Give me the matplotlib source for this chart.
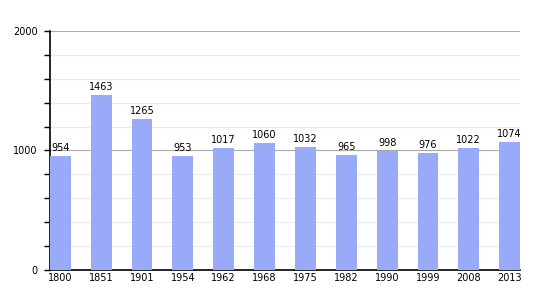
import matplotlib.pyplot as plt
import numpy as np

years = ['1800', '1851', '1901', '1954', '1962', '1968', '1975', '1982', '1990', '1999', '2008', '2013']
population = [954, 1463, 1265, 953, 1017, 1060, 1032, 965, 998, 976, 1022, 1074]

fig = plt.figure(figsize=(5.5, 3), dpi=100)
ax = fig.add_axes([0.091, 0.1, 0.855, 0.797])

x = np.arange(len(years))
bars = ax.bar(x, population, width=0.51, color='#99aaf9', zorder=3)

# value labels on top of bars
for xi, v in zip(x, population):
    ax.text(xi, v + 25, str(v), ha='center', va='bottom', fontsize=7, color='black', zorder=4)

ax.set_xlim(-0.25, len(years) - 0.74)
ax.set_ylim(0, 2000)
ax.set_xticks(x)
ax.set_xticklabels(years, fontsize=7)
ax.set_yticks([0, 1000, 2000])
ax.set_yticklabels(['0', '1000', '2000'], fontsize=7)
ax.set_yticks(np.arange(200, 2000, 200), minor=True)

ax.grid(axis='y', which='minor', color='#ebebeb', linewidth=0.8, zorder=0)
ax.grid(axis='y', which='major', color='#aaaaaa', linewidth=0.8, zorder=0)

ax.tick_params(axis='x', length=0, pad=2)
ax.tick_params(axis='y', which='major', length=4, width=1, pad=5)
ax.tick_params(axis='y', which='minor', length=4, width=1)

for s in ['top', 'right']:
    ax.spines[s].set_visible(False)
ax.spines['left'].set_linewidth(1.2)
ax.spines['bottom'].set_linewidth(1.2)

fig.savefig('out.png', dpi=100)
